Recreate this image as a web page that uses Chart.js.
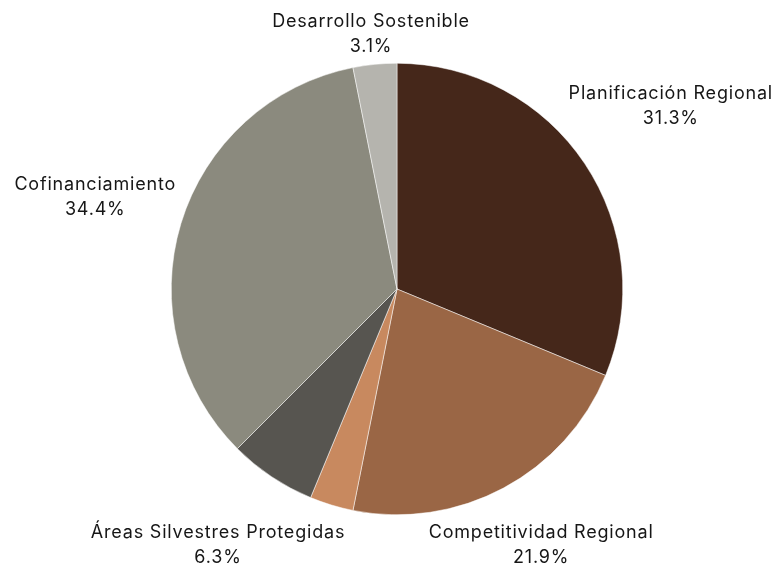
<!DOCTYPE html>
<html>
<head>
<meta charset="utf-8">
<script src="https://cdn.jsdelivr.net/npm/chart.js@4"></script>
<style>
    html, body { margin: 0; padding: 0; background: #fff; }
    canvas { display: block; }
</style>
</head>
<body>
<canvas id="chart_pie" width="775" height="568"></canvas>
<script>
const categories = ['Planificación Regional', 'Competitividad Regional', '', 'Áreas Silvestres Protegidas', 'Cofinanciamiento', 'Desarrollo Sostenible']
const values = [10, 7, 1, 2, 11, 1]
const colors = ['#45271a', '#9a6645', '#c8895f', '#575550', '#8b8a7e', '#b5b4ae']

const FONT = '18px Inter, "Noto Sans", sans-serif'
const LINE_H = 25

// labels outside the pie: name + percent, pushed out along the mid angle
const outsideLabels = {
    id: 'outsideLabels',
    afterDatasetsDraw(chart) {
        const ctx = chart.ctx
        const meta = chart.getDatasetMeta(0)
        const total = values.reduce((a, b) => a + b, 0)
        ctx.save()
        ctx.font = FONT
        ctx.letterSpacing = '0.8px'
        ctx.fillStyle = '#161616'
        ctx.textAlign = 'center'
        ctx.textBaseline = 'middle'
        meta.data.forEach((arc, i) => {
            if(!categories[i])
                return
            const pct = (values[i] / total * 100).toFixed(1) + '%'
            const lines = [categories[i], pct]
            const w = Math.max(...lines.map(l => ctx.measureText(l).width))
            const h = LINE_H * 2
            const mid = (arc.startAngle + arc.endAngle) / 2
            const dx = Math.cos(mid), dy = Math.sin(mid)
            const half = Math.abs(dx) * w / 2 + Math.abs(dy) * h / 2
            const r = arc.outerRadius + 5 + half
            let cx = arc.x + dx * r
            let cy = arc.y + dy * r
            cx = Math.min(Math.max(cx, w / 2 + 2), chart.width - w / 2 - 2)
            cy = Math.min(Math.max(cy, h / 2 + 9), chart.height - h / 2 + 2)
            ctx.fillText(lines[0], cx, cy - LINE_H / 2)
            ctx.fillText(lines[1], cx, cy + LINE_H / 2)
        })
        ctx.restore()
    }
}

const ctx = document.getElementById('chart_pie').getContext('2d')
const myChart = new Chart(ctx, {
    type: 'pie',
    data: {
        labels: categories,
        datasets: [{
            data: values,
            backgroundColor: colors,
            borderColor: '#ffffff',
            borderWidth: 0.5
        }]
    },
    options: {
        responsive: false,
        animation: false,
        layout: {
            padding: { left: 171, right: 152, top: 63, bottom: 53 }
        },
        plugins: {
            legend: { display: false },
            tooltip: { enabled: false }
        }
    },
    plugins: [outsideLabels]
})
</script>
</body>
</html>
